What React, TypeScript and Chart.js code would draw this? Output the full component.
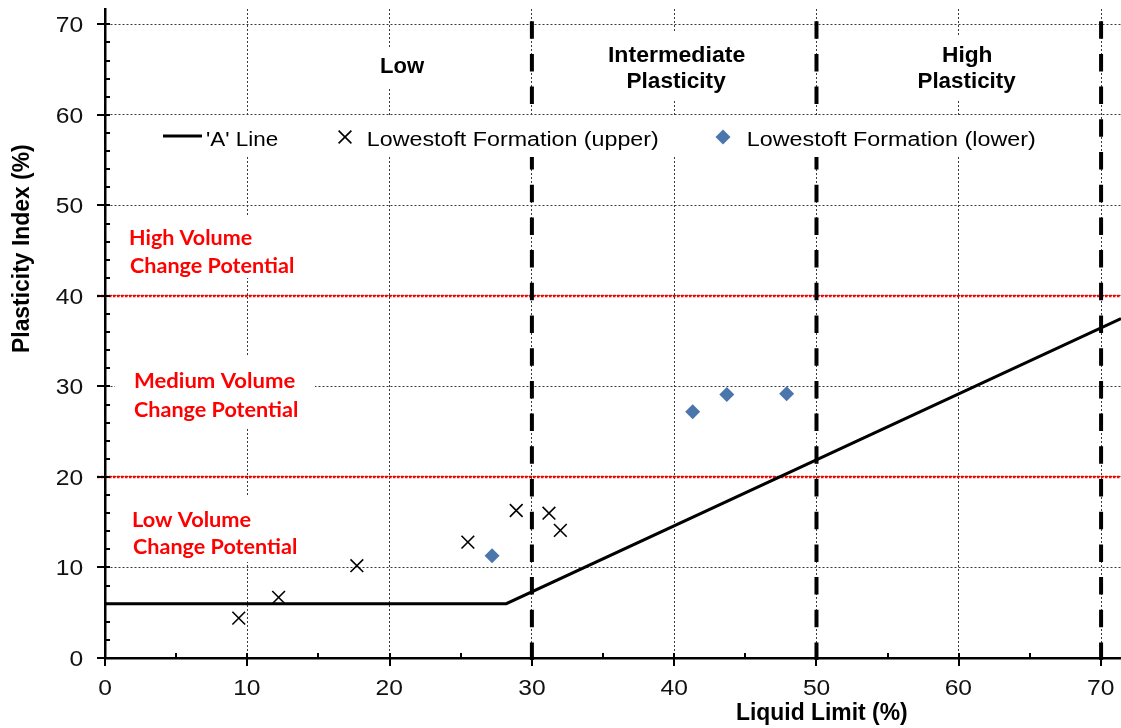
import React, { useEffect, useRef } from 'react';
import { Chart, registerables } from 'chart.js';

Chart.register(...registerables);

// ---------------- data ----------------
const llUpper = [9.4, 12.2, 17.7, 25.5, 28.9, 31.2, 32.0];
const piUpper = [4.4, 6.7, 10.2, 12.8, 16.3, 16.0, 14.1];
const llLower = [27.2, 41.3, 43.7, 47.9];
const piLower = [11.3, 27.2, 29.1, 29.2];
const aLineLL = [0, 28.2, 71.4];
const aLinePI = [6, 6, 37.5];
const plasticityBounds = [30, 50, 70];
const volumeBounds = [20, 40];
const xMin = 0;
const xMax = 71.4;
const yMin = 0;
const yMax = 71.7;
const xStep = 10;
const yStep = 10;
const xMinorStep = 5;
const yMinorStep = 2;
const seriesNames = ["'A' Line", 'Lowestoft Formation (upper)', 'Lowestoft Formation (lower)'];
const xTitle = 'Liquid Limit (%)';
const yTitle = 'Plasticity Index (%)';

// ---------------- styles ----------------
const ARIAL = '"Liberation Sans", Arial, Helvetica, sans-serif';
const CALIBRI = 'Lato, "Open Sans", sans-serif';
const BLUE = '#4A76AC';
const RED = '#FF0000';

function fitText(ctx: CanvasRenderingContext2D, text: string, x: number, y: number, font: string, color: string, width: number, align: string) {
  ctx.save();
  ctx.font = font;
  ctx.fillStyle = color;
  ctx.textAlign = 'left';
  ctx.textBaseline = 'alphabetic';
  const m = ctx.measureText(text);
  const ink = m.actualBoundingBoxLeft + m.actualBoundingBoxRight;
  const sx = width / ink;
  ctx.translate(x, y);
  ctx.scale(sx, 1);
  if (align === 'left') ctx.fillText(text, m.actualBoundingBoxLeft, 0);
  else if (align === 'right') ctx.fillText(text, -m.actualBoundingBoxRight, 0);
  else ctx.fillText(text, (m.actualBoundingBoxLeft - m.actualBoundingBoxRight) / 2, 0);
  ctx.restore();
}

function scaledText(ctx: CanvasRenderingContext2D, text: string, x: number, y: number, font: string, color: string, sx: number, align: string) {
  ctx.save();
  ctx.font = font;
  ctx.fillStyle = color;
  ctx.textAlign = 'left';
  ctx.textBaseline = 'alphabetic';
  const m = ctx.measureText(text);
  ctx.translate(x, y);
  ctx.scale(sx, 1);
  if (align === 'left') ctx.fillText(text, m.actualBoundingBoxLeft, 0);
  else if (align === 'right') ctx.fillText(text, -m.actualBoundingBoxRight, 0);
  else ctx.fillText(text, (m.actualBoundingBoxLeft - m.actualBoundingBoxRight) / 2, 0);
  ctx.restore();
}

const overlayPlugin = {
  id: 'overlay',
  beforeDatasetsDraw(chart: any) {
    const { ctx, chartArea: a, scales } = chart;
    const x = scales.x;
    const y = scales.y;
    ctx.save();
    ctx.strokeStyle = RED;
    ctx.lineWidth = 2.5;
    ctx.setLineDash([2.5, 1.5]);
    volumeBounds.forEach((v) => {
      const py = y.getPixelForValue(v);
      ctx.beginPath();
      ctx.moveTo(a.left - 8, py);
      ctx.lineTo(a.right, py);
      ctx.stroke();
    });
    ctx.strokeStyle = '#000';
    ctx.lineWidth = 4;
    ctx.setLineDash([17.5, 15.2]);
    plasticityBounds.forEach((v) => {
      const px = x.getPixelForValue(v);
      ctx.beginPath();
      ctx.moveTo(px, a.bottom + 2);
      ctx.lineTo(px, a.top);
      ctx.stroke();
    });
    ctx.restore();
  },
  afterDatasetsDraw(chart: any) {
    const { ctx } = chart;
    ctx.save();
    ctx.fillStyle = '#fff';
    // white label backgrounds
    ctx.fillRect(150, 117, 900, 40); // legend
    ctx.fillRect(370, 47, 70, 40); // Low
    ctx.fillRect(600, 33, 155, 67); // Intermediate
    ctx.fillRect(905, 35, 125, 65); // High
    ctx.fillRect(120, 215, 190, 63);
    ctx.fillRect(115, 357, 200, 71);
    ctx.fillRect(120, 497, 190, 65);
    ctx.restore();

    const bold22 = `bold 22px ${ARIAL}`;
    fitText(ctx, 'Low', 403, 73, bold22, '#000', 44, 'center');
    fitText(ctx, 'Intermediate', 677, 62, bold22, '#000', 136, 'center');
    fitText(ctx, 'Plasticity', 677, 88, bold22, '#000', 99, 'center');
    fitText(ctx, 'High', 967.5, 62, bold22, '#000', 49, 'center');
    fitText(ctx, 'Plasticity', 967.5, 88, bold22, '#000', 98, 'center');

    const red = `bold 21px ${CALIBRI}`;
    fitText(ctx, 'High Volume', 130, 245, red, RED, 122, 'left');
    fitText(ctx, 'Change Potential', 130, 273, red, RED, 163, 'left');
    fitText(ctx, 'Medium Volume', 135, 388, red, RED, 160, 'left');
    fitText(ctx, 'Change Potential', 134, 417, red, RED, 163, 'left');
    fitText(ctx, 'Low Volume', 133, 527, red, RED, 118, 'left');
    fitText(ctx, 'Change Potential', 133, 554, red, RED, 163, 'left');

    // legend
    const lf = `20px ${ARIAL}`;
    ctx.save();
    ctx.strokeStyle = '#000';
    ctx.lineWidth = 3;
    ctx.beginPath();
    ctx.moveTo(163, 136);
    ctx.lineTo(202, 136);
    ctx.stroke();
    ctx.lineWidth = 1.6;
    ctx.beginPath();
    ctx.moveTo(345 - 6.4, 137 - 6.4);
    ctx.lineTo(345 + 6.4, 137 + 6.4);
    ctx.moveTo(345 + 6.4, 137 - 6.4);
    ctx.lineTo(345 - 6.4, 137 + 6.4);
    ctx.stroke();
    ctx.fillStyle = BLUE;
    ctx.beginPath();
    ctx.moveTo(723 - 7.5, 137);
    ctx.lineTo(723, 137 - 7.5);
    ctx.lineTo(723 + 7.5, 137);
    ctx.lineTo(723, 137 + 7.5);
    ctx.closePath();
    ctx.fill();
    ctx.restore();
    fitText(ctx, seriesNames[0], 207, 146, lf, '#000', 71, 'left');
    fitText(ctx, seriesNames[1], 368, 146, lf, '#000', 290, 'left');
    fitText(ctx, seriesNames[2], 748, 146, lf, '#000', 287, 'left');
  },
  afterDraw(chart: any) {
    const { ctx, chartArea: a, scales } = chart;
    const x = scales.x;
    const y = scales.y;
    ctx.save();
    ctx.strokeStyle = '#000';
    ctx.lineWidth = 2;
    for (let v = xMin; v <= xMax + 1e-6; v += xMinorStep) {
      const px = Math.round(x.getPixelForValue(v));
      const major = Math.abs(v % xStep) < 1e-6;
      ctx.beginPath();
      ctx.moveTo(px, a.bottom - 5);
      ctx.lineTo(px, major ? a.bottom + 8 : a.bottom);
      ctx.stroke();
    }
    for (let v = yMin; v <= yMax + 1e-6; v += yMinorStep) {
      const py = Math.round(y.getPixelForValue(v));
      const major = Math.abs(v % yStep) < 1e-6;
      ctx.beginPath();
      ctx.moveTo(major ? a.left - 8 : a.left, py);
      ctx.lineTo(a.left + 5, py);
      ctx.stroke();
    }
    ctx.restore();

    const tf = `22px ${ARIAL}`;
    x.ticks.forEach((t: any) => {
      scaledText(ctx, String(t.value), x.getPixelForValue(t.value), 695, tf, '#111', 1.12, 'center');
    });
    y.ticks.forEach((t: any) => {
      scaledText(ctx, String(t.value), 83, y.getPixelForValue(t.value) + 7.9, tf, '#111', 1.12, 'right');
    });

    const bt = `bold 23px ${ARIAL}`;
    fitText(ctx, xTitle, 737, 720, bt, '#000', 170, 'left');
    ctx.save();
    ctx.translate(28.5, 248.5);
    ctx.rotate(-Math.PI / 2);
    fitText(ctx, yTitle, 0, 0, bt, '#000', 207, 'center');
    ctx.restore();
  },
};

export default function App() {
  const ref = useRef<HTMLCanvasElement>(null);
  useEffect(() => {
    const canvas = ref.current as HTMLCanvasElement;
    const chart = new Chart(canvas, {
      type: 'scatter',
      data: {
        datasets: [
          {
            label: seriesNames[0],
            type: 'line',
            data: aLineLL.map((v, i) => ({ x: v, y: aLinePI[i] })),
            borderColor: '#000',
            borderWidth: 3,
            pointRadius: 0,
            fill: false,
            tension: 0,
          } as any,
          {
            label: seriesNames[1],
            data: llUpper.map((v, i) => ({ x: v, y: piUpper[i] })),
            pointStyle: 'crossRot',
            pointRadius: 9,
            borderColor: '#000',
            borderWidth: 1.6,
            backgroundColor: '#000',
          },
          {
            label: seriesNames[2],
            data: llLower.map((v, i) => ({ x: v, y: piLower[i] })),
            pointStyle: 'rectRot',
            pointRadius: 7.5,
            borderWidth: 0,
            borderColor: BLUE,
            backgroundColor: BLUE,
          },
        ],
      },
      options: {
        responsive: false,
        animation: false,
        events: [],
        layout: { autoPadding: false, padding: { top: 9, left: 0, right: 0, bottom: 0 } },
        plugins: { legend: { display: false }, tooltip: { enabled: false }, title: { display: false } },
        scales: {
          x: {
            type: 'linear',
            min: xMin,
            max: xMax,
            afterFit: (s: any) => {
              s.height = 70;
              s.paddingLeft = 0;
              s.paddingRight = 0;
            },
            ticks: { stepSize: xStep, includeBounds: false, display: false },
            grid: { color: '#3a3a3a', lineWidth: 1, drawTicks: false },
            border: { color: '#000', width: 2.5, dash: [2, 2] },
          },
          y: {
            type: 'linear',
            min: yMin,
            max: yMax,
            afterFit: (s: any) => {
              s.width = 105;
              s.paddingTop = 0;
              s.paddingBottom = 0;
            },
            ticks: { stepSize: yStep, includeBounds: false, display: false },
            grid: { color: '#3a3a3a', lineWidth: 1, drawTicks: false },
            border: { color: '#000', width: 2.5, dash: [2, 2] },
          },
        },
      } as any,
      plugins: [overlayPlugin],
    });
    return () => chart.destroy();
  }, []);
  return (
    <div style={{ position: 'fixed', left: 0, top: 0, width: 1121, height: 728, background: '#fff' }}>
      <canvas ref={ref} width={1121} height={728} style={{ width: '1121px', height: '728px', display: 'block' }} />
    </div>
  );
}
